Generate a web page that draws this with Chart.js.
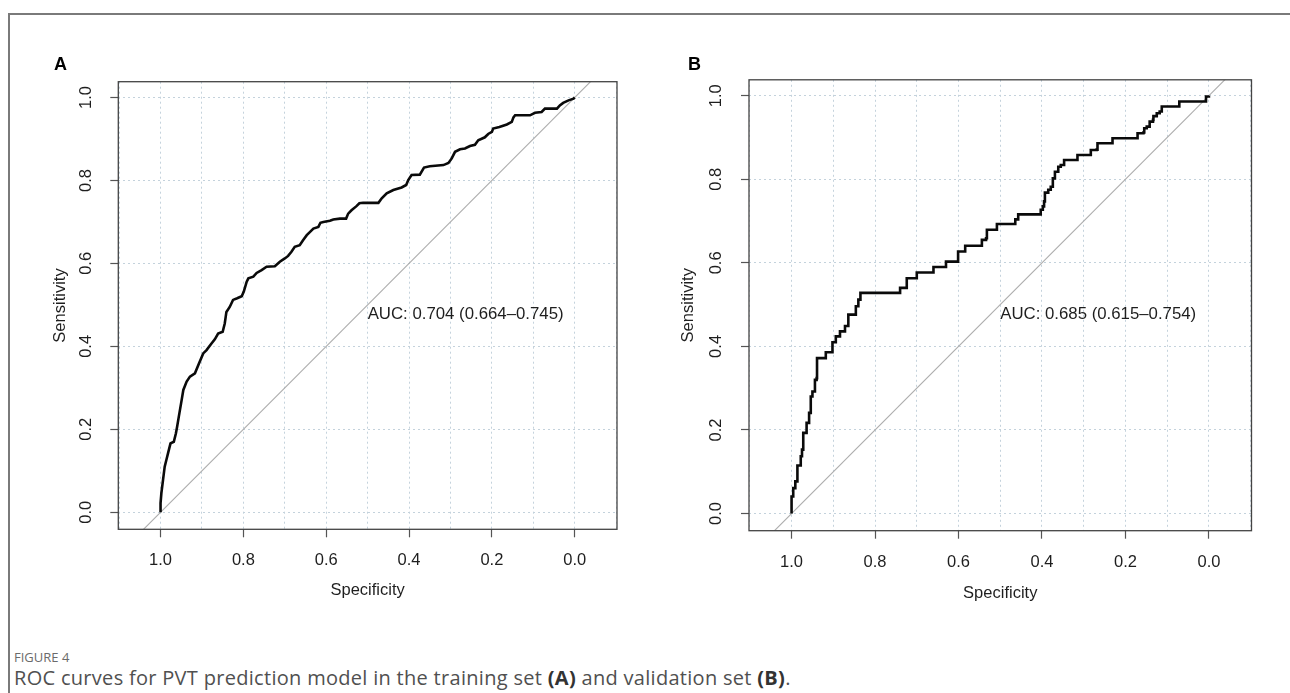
<!DOCTYPE html>
<html>
<head>
<meta charset="utf-8">
<script src="https://cdn.jsdelivr.net/npm/chart.js@4.4.1/dist/chart.umd.min.js"></script>
<style>
  html, body { margin: 0; padding: 0; background: #fff; }
  body { width: 1290px; height: 693px; position: relative; overflow: hidden; }
  .frame { position: absolute; left: 8px; top: 13px; width: 1400px; height: 800px;
           border-left: 2px solid #7a7a7a; border-top: 2px solid #7a7a7a; }
  canvas { position: absolute; top: 0; }
  .tag { position: absolute; font: bold 18px "Liberation Sans", Arial, sans-serif; line-height: 18px; color: #000; }
  .fig-no { position: absolute; left: 14px; top: 649px; font: 13px "Open Sans", sans-serif; line-height: 16px; color: #6b6b6b; }
  .caption { position: absolute; left: 14px; top: 666px; font: 20px "Open Sans", sans-serif; line-height: 24px;
             letter-spacing: 0.3px; color: #505050; white-space: nowrap; }
  .caption b { color: #333; }
</style>
</head>
<body>
<div class="frame"></div>
<canvas id="rocA" width="645" height="620" style="left:0"></canvas>
<canvas id="rocB" width="645" height="620" style="left:645px"></canvas>
<div class="tag" style="left:54px; top:55px">A</div>
<div class="tag" style="left:688px; top:55px">B</div>
<div class="fig-no">FIGURE 4</div>
<div class="caption">ROC curves for PVT prediction model in the training set <b>(A)</b> and validation set <b>(B)</b>.</div>

<script>
// training set (A): specificity / sensitivity
const specA = [1.000, 1.000, 0.998, 0.994, 0.990, 0.986, 0.982, 0.976, 0.968, 0.963, 0.960, 0.956,
  0.949, 0.945, 0.937, 0.929, 0.917, 0.907, 0.897, 0.889, 0.877, 0.869, 0.861, 0.850, 0.845, 0.841,
  0.833, 0.825, 0.815, 0.804, 0.799, 0.792, 0.788, 0.776, 0.768, 0.756, 0.744, 0.724, 0.712, 0.700,
  0.692, 0.684, 0.676, 0.664, 0.656, 0.647, 0.639, 0.631, 0.619, 0.614, 0.607, 0.591, 0.583, 0.567,
  0.552, 0.547, 0.539, 0.527, 0.520, 0.511, 0.474, 0.466, 0.454, 0.438, 0.418, 0.407, 0.402, 0.394,
  0.374, 0.364, 0.350, 0.317, 0.305, 0.297, 0.289, 0.277, 0.265, 0.253, 0.241, 0.233, 0.217, 0.209,
  0.200, 0.197, 0.182, 0.164, 0.152, 0.148, 0.144, 0.108, 0.096, 0.080, 0.072, 0.043, 0.036, 0.028,
  0.015, 0.003, 0.000];
const sensA = [0.000, 0.022, 0.046, 0.078, 0.110, 0.126, 0.142, 0.166, 0.170, 0.190, 0.206, 0.230,
  0.271, 0.295, 0.315, 0.327, 0.335, 0.359, 0.383, 0.391, 0.407, 0.417, 0.431, 0.435, 0.455, 0.483,
  0.495, 0.512, 0.516, 0.521, 0.532, 0.556, 0.564, 0.568, 0.577, 0.584, 0.592, 0.593, 0.604, 0.612,
  0.618, 0.628, 0.640, 0.644, 0.656, 0.668, 0.676, 0.684, 0.688, 0.698, 0.700, 0.703, 0.706, 0.708,
  0.708, 0.720, 0.728, 0.738, 0.745, 0.746, 0.746, 0.757, 0.769, 0.777, 0.783, 0.789, 0.801, 0.813,
  0.814, 0.831, 0.834, 0.837, 0.842, 0.853, 0.869, 0.875, 0.877, 0.883, 0.886, 0.897, 0.904, 0.912,
  0.917, 0.925, 0.929, 0.935, 0.941, 0.952, 0.957, 0.957, 0.963, 0.965, 0.973, 0.973, 0.981, 0.987,
  0.993, 0.997, 1.000];

// validation set (B): corner points of the step curve
const specB = [1.000, 1.000, 0.996, 0.991, 0.986, 0.978, 0.975, 0.972, 0.964, 0.958, 0.954, 0.950,
  0.944, 0.940, 0.939, 0.918, 0.902, 0.894, 0.884, 0.872, 0.864, 0.846, 0.840, 0.835, 0.740, 0.724,
  0.700, 0.660, 0.630, 0.601, 0.584, 0.544, 0.534, 0.532, 0.508, 0.464, 0.457, 0.403, 0.398, 0.395,
  0.393, 0.385, 0.379, 0.374, 0.369, 0.361, 0.355, 0.347, 0.315, 0.283, 0.269, 0.267, 0.231, 0.171,
  0.157, 0.155, 0.149, 0.142, 0.134, 0.133, 0.125, 0.118, 0.113, 0.071, 0.007, 0.000];
const sensB = [0.000, 0.041, 0.061, 0.077, 0.115, 0.137, 0.153, 0.193, 0.217, 0.241, 0.280, 0.292,
  0.320, 0.324, 0.372, 0.386, 0.410, 0.424, 0.436, 0.449, 0.476, 0.496, 0.512, 0.528, 0.540, 0.563,
  0.577, 0.590, 0.603, 0.627, 0.641, 0.655, 0.659, 0.679, 0.693, 0.704, 0.716, 0.727, 0.735, 0.747,
  0.768, 0.775, 0.782, 0.802, 0.818, 0.830, 0.834, 0.846, 0.858, 0.870, 0.871, 0.886, 0.898, 0.910,
  0.912, 0.922, 0.926, 0.938, 0.942, 0.951, 0.958, 0.962, 0.974, 0.986, 0.998, 1.000];

// chance line (sensitivity = 1 - specificity)
const diagSpec = [1.2, -0.2];
const diagSens = [-0.2, 1.2];

const xGridValues = [1.1, 1.0, 0.9, 0.8, 0.7, 0.6, 0.5, 0.4, 0.3, 0.2, 0.1, 0.0, -0.1];
const yTickValues = [0.0, 0.2, 0.4, 0.6, 0.8, 1.0];
const aucLabels = ['AUC: 0.704 (0.664\u20130.745)', 'AUC: 0.685 (0.615\u20130.754)'];

const xRange = [-0.102, 1.102];
const yRange = [-0.041, 1.038];

const FONT = '"Liberation Sans", Arial, Helvetica, sans-serif';
const TEXT_COLOR = '#1e1e1e';
const AXIS_COLOR = '#555';
const GRID_COLOR = '#c4d2dc';

function toPoints(xs, ys) {
  return xs.map((x, i) => ({ x: x, y: ys[i] }));
}

// labelled ticks are every 0.2 between 0 and 1
function isLabelled(v) {
  const k = Math.round(v * 10);
  return k >= 0 && k <= 10 && k % 2 === 0;
}

// draws the plot box and the AUC text
const rocPlugin = {
  id: 'rocBox',
  afterDatasetsDraw(chart, args, opts) {
    const { ctx, scales: { x, y } } = chart;
    ctx.save();
    ctx.font = '16.8px ' + FONT;
    ctx.fillStyle = TEXT_COLOR;
    ctx.textAlign = 'left';
    ctx.textBaseline = 'alphabetic';
    ctx.fillText(opts.auc, x.getPixelForValue(0.5), y.getPixelForValue(0.5) + 14.5);
    ctx.restore();
  },
  afterDraw(chart) {
    const { ctx, chartArea: a } = chart;
    ctx.save();
    ctx.strokeStyle = '#444';
    ctx.lineWidth = 1.3;
    ctx.strokeRect(a.left, a.top, a.right - a.left, a.bottom - a.top);
    ctx.restore();
  }
};

function makeRocChart(id, spec, sens, stepped, auc, lay) {
  const canvas = document.getElementById(id);
  const W = canvas.width, H = canvas.height;
  return new Chart(canvas, {
    type: 'line',
    data: {
      datasets: [
        {
          data: toPoints(spec, sens),
          borderColor: '#0a0a0a',
          borderWidth: 2.6,
          pointRadius: 0,
          stepped: stepped,
          tension: 0
        },
        {
          data: toPoints(diagSpec, diagSens),
          borderColor: '#adadad',
          borderWidth: 1.1,
          pointRadius: 0
        }
      ]
    },
    options: {
      responsive: false,
      animation: false,
      devicePixelRatio: 1,
      layout: { padding: { left: 0, top: lay.top, right: W - lay.right, bottom: 0 } },
      plugins: {
        legend: { display: false },
        tooltip: { enabled: false },
        rocBox: { auc: auc }
      },
      scales: {
        x: {
          type: 'linear',
          reverse: true,
          min: xRange[0],
          max: xRange[1],
          afterBuildTicks: (s) => { s.ticks = xGridValues.map((v) => ({ value: v })); },
          afterFit: (s) => { s.height = H - lay.bottom; s.paddingLeft = 0; s.paddingRight = 0; },
          ticks: {
            autoSkip: false,
            minRotation: 0,
            maxRotation: 0,
            padding: lay.xLabelPad,
            color: TEXT_COLOR,
            font: { family: FONT, size: 16.5 },
            callback: (v) => (isLabelled(v) ? Number(v).toFixed(1) : '')
          },
          grid: {
            color: GRID_COLOR,
            lineWidth: 1,
            tickLength: 8,
            tickWidth: 1.2,
            tickColor: (c) => (c.tick && isLabelled(c.tick.value) ? AXIS_COLOR : 'rgba(0,0,0,0)')
          },
          border: { display: false, dash: [2, 3] },
          title: {
            display: true,
            text: 'Specificity',
            color: TEXT_COLOR,
            font: { family: FONT, size: 16.5, lineHeight: 1 },
            padding: { top: 0, bottom: lay.xTitlePad }
          }
        },
        y: {
          type: 'linear',
          min: yRange[0],
          max: yRange[1],
          afterBuildTicks: (s) => { s.ticks = yTickValues.map((v) => ({ value: v })); },
          afterFit: (s) => { s.width = lay.left; s.paddingTop = 0; s.paddingBottom = 0; },
          ticks: {
            autoSkip: false,
            minRotation: 90,
            maxRotation: 90,
            crossAlign: 'center',
            padding: lay.yLabelPad,
            color: TEXT_COLOR,
            font: { family: FONT, size: 16.5 },
            callback: (v) => Number(v).toFixed(1)
          },
          grid: {
            color: GRID_COLOR,
            lineWidth: 1,
            tickLength: 8,
            tickWidth: 1.2,
            tickColor: AXIS_COLOR
          },
          border: { display: false, dash: [2, 3] },
          title: {
            display: true,
            text: 'Sensitivity',
            color: TEXT_COLOR,
            font: { family: FONT, size: 16.5, lineHeight: 1 },
            padding: { top: lay.yTitlePad, bottom: 0 }
          }
        }
      }
    },
    plugins: [rocPlugin]
  });
}

makeRocChart('rocA', specA, sensA, false, aucLabels[0], {
  left: 118.3, top: 81.7, right: 617, bottom: 529.3,
  xLabelPad: 12.8, yLabelPad: 12.2, xTitlePad: 21.75, yTitlePad: 51.75
});
makeRocChart('rocB', specB, sensB, 'before', aucLabels[1], {
  left: 104, top: 79.8, right: 606.5, bottom: 530.7,
  xLabelPad: 13.4, yLabelPad: 13.5, xTitlePad: 18.75, yTitlePad: 34.75
});
</script>
</body>
</html>
